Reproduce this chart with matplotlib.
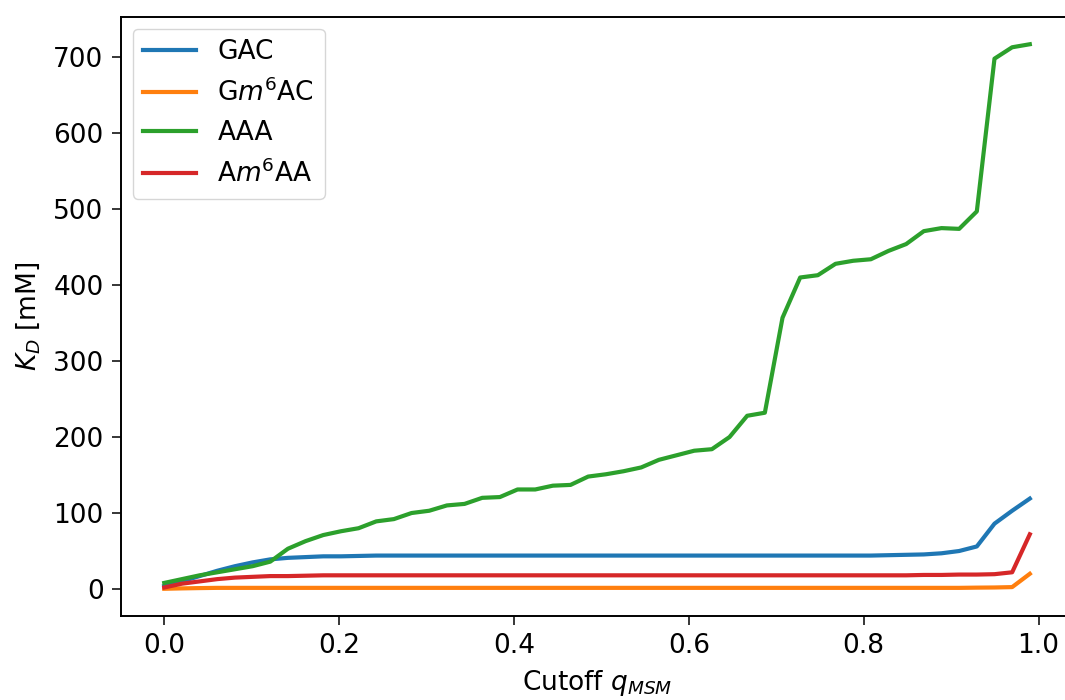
import numpy as np
import matplotlib
matplotlib.use("Agg")
import matplotlib.pyplot as plt

# Cutoff grid (50 points from 0 to 0.99)
cutoff = np.linspace(0.0, 0.99, 50)

kd_gac = [4, 10, 17, 24, 30, 35, 39, 41, 42, 43,
          43, 43.5, 44, 44, 44, 44, 44, 44, 44, 44,
          44, 44, 44, 44, 44, 44, 44, 44, 44, 44,
          44, 44, 44, 44, 44, 44, 44, 44, 44, 44,
          44, 44.5, 45, 45.5, 47, 50, 56, 86, 103, 119]

kd_gm6ac = [0.3, 0.8, 1.2, 1.5, 1.5, 1.5, 1.5, 1.5, 1.5, 1.5,
            1.5, 1.5, 1.5, 1.5, 1.5, 1.5, 1.5, 1.5, 1.5, 1.5,
            1.5, 1.5, 1.5, 1.5, 1.5, 1.5, 1.5, 1.5, 1.5, 1.5,
            1.5, 1.5, 1.5, 1.5, 1.5, 1.5, 1.5, 1.5, 1.5, 1.5,
            1.5, 1.5, 1.5, 1.5, 1.5, 1.5, 1.8, 2, 2.5, 20]

kd_aaa = [8, 13, 18, 22, 26, 30, 36, 53, 63, 71,
          76, 80, 89, 92, 100, 103, 110, 112, 120, 121,
          131, 131, 136, 137, 148, 151, 155, 160, 170, 176,
          182, 184, 200, 228, 232, 357, 410, 413, 428, 432,
          434, 445, 454, 471, 475, 474, 497, 698, 713, 717]

kd_am6aa = [2, 7, 10, 13, 15, 16, 17, 17, 17.5, 18,
            18, 18, 18, 18, 18, 18, 18, 18, 18, 18,
            18, 18, 18, 18, 18, 18, 18, 18, 18, 18,
            18, 18, 18, 18, 18, 18, 18, 18, 18, 18,
            18, 18, 18, 18.5, 18.5, 19, 19, 19.5, 22, 72]

labels = ["GAC", "G$m^6$AC", "AAA", "A$m^6$AA"]
series = [kd_gac, kd_gm6ac, kd_aaa, kd_am6aa]
colors = ["#1f77b4", "#ff7f0e", "#2ca02c", "#d62728"]

plt.rcParams["font.family"] = ["DejaVu Sans"]
plt.rcParams["font.size"] = 19
plt.rcParams["mathtext.fontset"] = "dejavusans"

fig = plt.figure(figsize=(10.65, 7.0), dpi=100)
ax = fig.add_axes([0.1136, 0.12, 0.894, 0.8557])

for y, lab, c in zip(series, labels, colors):
    ax.plot(cutoff, y, color=c, lw=3.0, label=lab)

ax.set_xlabel("Cutoff $q_{MSM}$", labelpad=6)
ax.set_ylabel("$K_D$ [mM]", labelpad=8)
ax.set_yticks([0, 100, 200, 300, 400, 500, 600, 700])
ax.set_xticks([0.0, 0.2, 0.4, 0.6, 0.8, 1.0])
ax.tick_params(length=6.5, width=1.1, pad=6)
for sp in ax.spines.values():
    sp.set_linewidth(1.4)

ax.legend(loc="upper left", borderaxespad=0.45)

fig.savefig("out.png", dpi=100)
